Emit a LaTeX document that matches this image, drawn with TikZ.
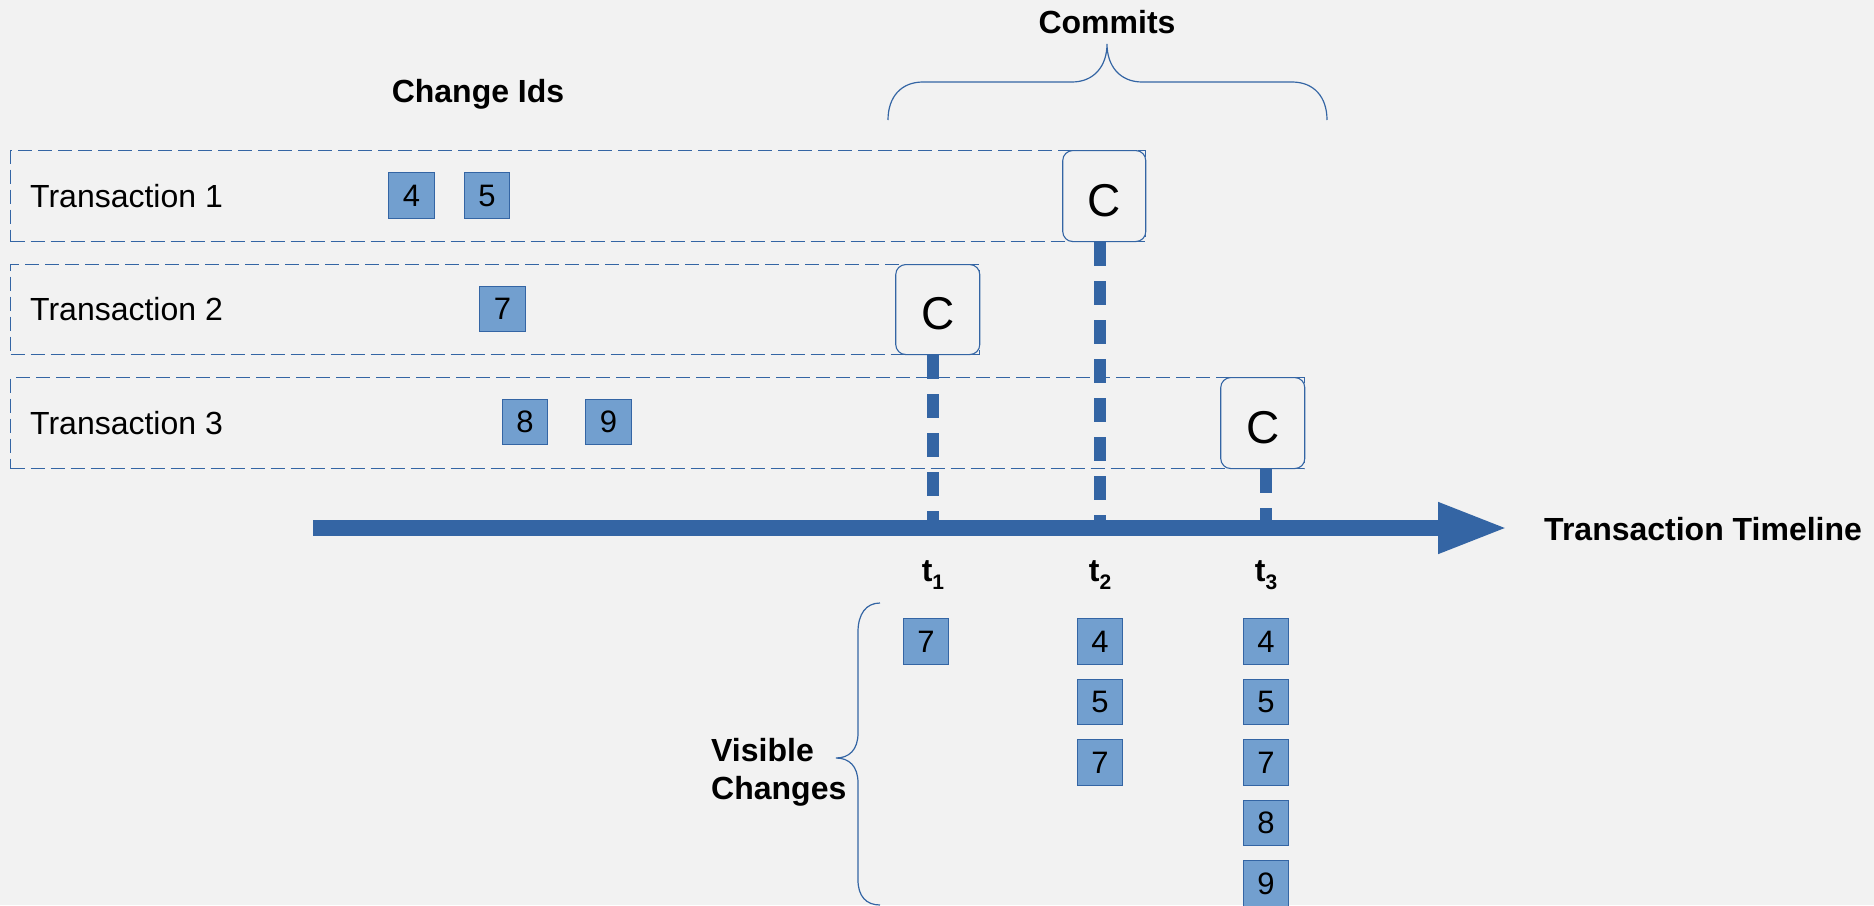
\documentclass[tikz,border=0pt]{standalone}
\usepackage{fontspec}
\setmainfont{Liberation Sans}
\usetikzlibrary{arrows.meta,backgrounds}
\definecolor{bg}{HTML}{F2F2F2}
\definecolor{dblue}{HTML}{3465A4}
\definecolor{lblue}{HTML}{729FCF}
\newcommand{\tsub}[1]{t\raisebox{-8pt}{\fontsize{21}{21}\selectfont #1}}
\begin{document}
\begin{tikzpicture}[x=1pt,y=-1pt,
  chg/.style={draw=dblue, fill=lblue, line width=1.2pt, minimum width=45.5pt, minimum height=45.5pt, inner sep=0pt, font=\fontsize{31}{31}\selectfont},
  txbox/.style={draw=dblue, line width=1.3pt, dash pattern=on 14pt off 6pt, inner sep=0pt, anchor=north west},
  cbox/.style={draw=dblue, fill=bg, line width=1.1pt, rounded corners=10pt, inner sep=0pt, anchor=north east, text height=40pt, text depth=0pt, font=\fontsize{46}{46}\selectfont},
  vdash/.style={dblue, line width=12pt, dash pattern=on 23.5pt off 15.5pt},
  lbl/.style={font=\fontsize{32}{38}\selectfont, inner sep=0pt},
  blbl/.style={font=\bfseries\fontsize{32}{37.6}\selectfont, inner sep=0pt},
  brace/.style={dblue, line width=1.2pt}]
\useasboundingbox (0,0) rectangle (1874,905);
\begin{scope}
\clip (0,0) rectangle (1874,905);

% transaction rows
\node[txbox, minimum width=1135pt, minimum height=91pt] (T1) at (10,150) {};
\node[txbox, minimum width=969pt, minimum height=90pt] (T2) at (10,264) {};
\node[txbox, minimum width=1294pt, minimum height=91pt] (T3) at (10,377) {};

\node[lbl, anchor=base west] (L1) at (30,207) {Transaction 1};
\node[lbl, anchor=base west] (L2) at (30,320.7) {Transaction 2};
\node[lbl, anchor=base west] (L3) at (30,434) {Transaction 3};

% commit boxes
\node[cbox, minimum width=83pt, minimum height=91pt] (C1) at (T1.north east) {C};
\node[cbox, minimum width=84pt, minimum height=90pt] (C2) at (T2.north east) {C};
\node[cbox, minimum width=84pt, minimum height=91pt] (C3) at (T3.north east) {C};

% change ids in transactions
\node[chg] (a4) at (411.5,195.5) {4};
\node[chg] (a5) at (487,195.5) {5};
\node[chg] (b7) at (502.5,309) {7};
\node[chg] (c8) at (525,422) {8};
\node[chg] (c9) at (608.5,422) {9};

% timeline
\coordinate (tl0) at (313,528);
\coordinate (tl1) at (1508,528);
\coordinate (t1) at (933,528);
\coordinate (t2) at (1100,528);
\coordinate (t3) at (1266,528);
\begin{scope}[on background layer]
\fill[bg] (0,0) rectangle (1874,905);
\draw[vdash] (C2.south -| t1) -- (t1);
\draw[vdash] (C1.south -| t2) -- (t2);
\draw[vdash] (C3.south -| t3) -- (t3);
\draw[dblue, line width=16pt, -{Triangle[length=70pt,width=47pt]}] (tl0) -- (tl1);
\end{scope}

\node[blbl, anchor=base west] (tt) at (1544,540) {Transaction Timeline};
\node[blbl, anchor=base] (lt1) at (933,581.7) {\tsub{1}};
\node[blbl, anchor=base] (lt2) at (1100,581.7) {\tsub{2}};
\node[blbl, anchor=base] (lt3) at (1266,581.7) {\tsub{3}};

% headings
\node[blbl, anchor=base] (cid) at (478,102.5) {Change Ids};
\node[blbl, anchor=base] (com) at (1107,33.3) {Commits};

% commits brace
\draw[brace] (888,120) .. controls (888,97) and (901,82) .. (923,82) -- (1072,82)
  .. controls (1094,82) and (1107,66) .. (1107,44)
  .. controls (1107,66) and (1120,82) .. (1142,82) -- (1292,82)
  .. controls (1314,82) and (1327,97) .. (1327,120);

% visible changes brace
\draw[brace] (880,603) .. controls (866,603) and (858,614) .. (858,632) -- (858,733)
  .. controls (858,750) and (849,758) .. (836,758)
  .. controls (849,758) and (858,766) .. (858,783) -- (858,880)
  .. controls (858,896) and (866,905) .. (880,905);
\node[blbl, anchor=base west, align=left] (vis) at (711,799.3) {Visible\\Changes};

% visible changes columns
\node[chg] (v17) at (926,641.5) {7};
\node[chg] (v24) at (1100,641.5) {4};
\node[chg] (v25) at (1100,702) {5};
\node[chg] (v27) at (1100,762.5) {7};
\node[chg] (v34) at (1266,641.5) {4};
\node[chg] (v35) at (1266,702) {5};
\node[chg] (v37) at (1266,762.5) {7};
\node[chg] (v38) at (1266,823) {8};
\node[chg] (v39) at (1266,883.5) {9};
\end{scope}
\end{tikzpicture}
\end{document}
